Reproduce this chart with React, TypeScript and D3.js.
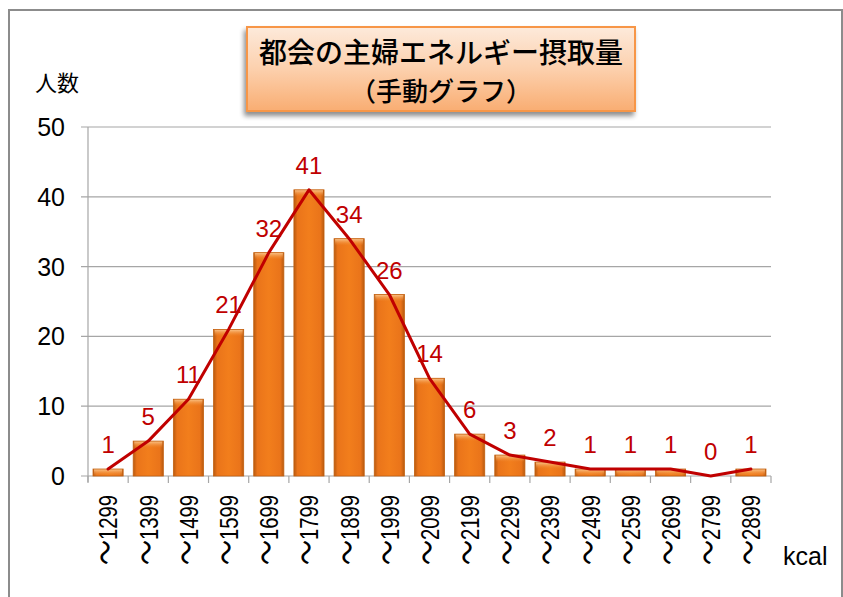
import React from 'react';
import * as d3 from 'd3';

// kcal ranges (upper bound of each bin)
const categories = [
  '～1299', '～1399', '～1499', '～1599', '～1699', '～1799', '～1899', '～1999', '～2099',
  '～2199', '～2299', '～2399', '～2499', '～2599', '～2699', '～2799', '～2899',
];
// number of people in each bin
const counts = [1, 5, 11, 21, 32, 41, 34, 26, 14, 6, 3, 2, 1, 1, 1, 0, 1];
const yTicks = [0, 10, 20, 30, 40, 50];

const titleLines = ['都会の主婦エネルギー摂取量', '（手動グラフ）'];

const W = 843;
const H = 597;
const plot = { left: 88, right: 771, top: 127, bottom: 476 };

const latin = '"Liberation Sans", Arial, "Noto Sans CJK JP", sans-serif';
const jp = '"Noto Sans CJK JP", sans-serif';

const App: React.FC = () => {
  const x = d3.scaleBand<string>()
    .domain(categories)
    .range([plot.left, plot.right])
    .paddingInner(0.25)
    .paddingOuter(0.125);

  const y = d3.scaleLinear().domain([0, 50]).range([plot.bottom, plot.top]);

  const cx = (i: number) => (x(categories[i]) ?? 0) + x.bandwidth() / 2;

  const line = d3.line<number>()
    .x((_, i) => cx(i))
    .y(d => y(d))
    .curve(d3.curveLinear);

  const step = x.step();
  const boundaries = d3.range(categories.length + 1).map(i => plot.left + i * step);

  return (
    <svg width={W} height={H} style={{ position: 'absolute', left: 0, top: 0, display: 'block', background: '#fff' }}>
      <defs>
        <linearGradient id="barBody" x1="0" x2="1" y1="0" y2="0">
          <stop offset="0" stopColor="#b85a10" />
          <stop offset="0.12" stopColor="#ea741a" />
          <stop offset="0.5" stopColor="#f27e1c" />
          <stop offset="0.88" stopColor="#ea741a" />
          <stop offset="1" stopColor="#b85a10" />
        </linearGradient>
        <linearGradient id="barTop" x1="0" x2="0" y1="0" y2="1">
          <stop offset="0" stopColor="#fbc78e" />
          <stop offset="1" stopColor="#f08a30" stopOpacity="0" />
        </linearGradient>
        <linearGradient id="titleFill" x1="0" x2="0" y1="0" y2="1">
          <stop offset="0" stopColor="#fdeadb" />
          <stop offset="0.5" stopColor="#fcd0ad" />
          <stop offset="1" stopColor="#f9ad72" />
        </linearGradient>
        <filter id="shadow" x="-10%" y="-20%" width="120%" height="150%">
          <feGaussianBlur in="SourceAlpha" stdDeviation="2.5" />
          <feOffset dx="-2" dy="4" result="b" />
          <feComponentTransfer><feFuncA type="linear" slope="0.45" /></feComponentTransfer>
          <feMerge>
            <feMergeNode />
            <feMergeNode in="SourceGraphic" />
          </feMerge>
        </filter>
      </defs>

      {/* chart frame */}
      <rect x={9} y={10} width={833} height={620} fill="none" stroke="#8c8c8c" strokeWidth={2} />

      {/* gridlines + y axis labels */}
      <g>
        {yTicks.map(t => (
          <g key={t}>
            <line x1={plot.left - 7} x2={plot.right} y1={y(t)} y2={y(t)} stroke="#a6a6a6" strokeWidth={1.2} />
            <text x={65} y={y(t)} dy="0.36em" textAnchor="end" fontFamily={latin} fontSize={25} fill="#000">{t}</text>
          </g>
        ))}
        <line x1={plot.left} x2={plot.left} y1={plot.top} y2={plot.bottom + 6} stroke="#a6a6a6" strokeWidth={1.2} />
      </g>

      {/* x axis ticks */}
      <g>
        {boundaries.map((bx, i) => (
          <line key={i} x1={bx} x2={bx} y1={plot.bottom} y2={plot.bottom + 7} stroke="#a6a6a6" strokeWidth={1.2} />
        ))}
      </g>

      {/* bars */}
      <g>
        {counts.map((v, i) => {
          const bx = x(categories[i]) ?? 0;
          const by = y(v);
          const h = plot.bottom - by;
          if (h <= 0) return null;
          return (
            <g key={i}>
              <rect x={bx} y={by} width={x.bandwidth()} height={h} fill="url(#barBody)" />
              <rect x={bx + 1} y={by} width={x.bandwidth() - 2} height={Math.min(7, h)} fill="url(#barTop)" />
              <rect x={bx} y={by} width={x.bandwidth()} height={h} fill="none" stroke="#c3600f" strokeWidth={0.8} />
            </g>
          );
        })}
      </g>

      {/* line */}
      <path d={line(counts) ?? ''} fill="none" stroke="#c00000" strokeWidth={3} strokeLinejoin="round" strokeLinecap="round" />

      {/* value labels */}
      <g>
        {counts.map((v, i) => (
          <text key={i} x={cx(i)} y={y(v) - 16} textAnchor="middle" fontFamily={latin} fontSize={24} fill="#c00000">{v}</text>
        ))}
      </g>

      {/* x labels: wave dash in the CJK font, digits condensed */}
      <g>
        {categories.map((c, i) => (
          <text
            key={c}
            transform={`translate(${cx(i)},495) rotate(-90) scale(0.78,1)`}
            textAnchor="end"
            dy="0.36em"
            fontFamily={latin}
            fontSize={26}
            fill="#000"
          >
            <tspan fontFamily={jp} fontSize={32}>{c.slice(0, 1)}</tspan>
            <tspan>{c.slice(1)}</tspan>
          </text>
        ))}
      </g>

      <text x={783} y={565} fontFamily={latin} fontSize={25} fill="#000">kcal</text>
      <text x={35} y={91} fontFamily={jp} fontSize={22} fill="#000">人数</text>

      {/* title box */}
      <g filter="url(#shadow)">
        <rect x={247} y={27} width={388} height={84} fill="url(#titleFill)" stroke="#f79646" strokeWidth={2} />
      </g>
      <text x={441} y={53} dy="0.36em" textAnchor="middle" fontFamily={jp} fontWeight={500} fontSize={28} fill="#000">{titleLines[0]}</text>
      <text x={441} y={92} dy="0.36em" textAnchor="middle" fontFamily={jp} fontWeight={500} fontSize={26} fill="#000">{titleLines[1]}</text>
    </svg>
  );
};

export default App;
